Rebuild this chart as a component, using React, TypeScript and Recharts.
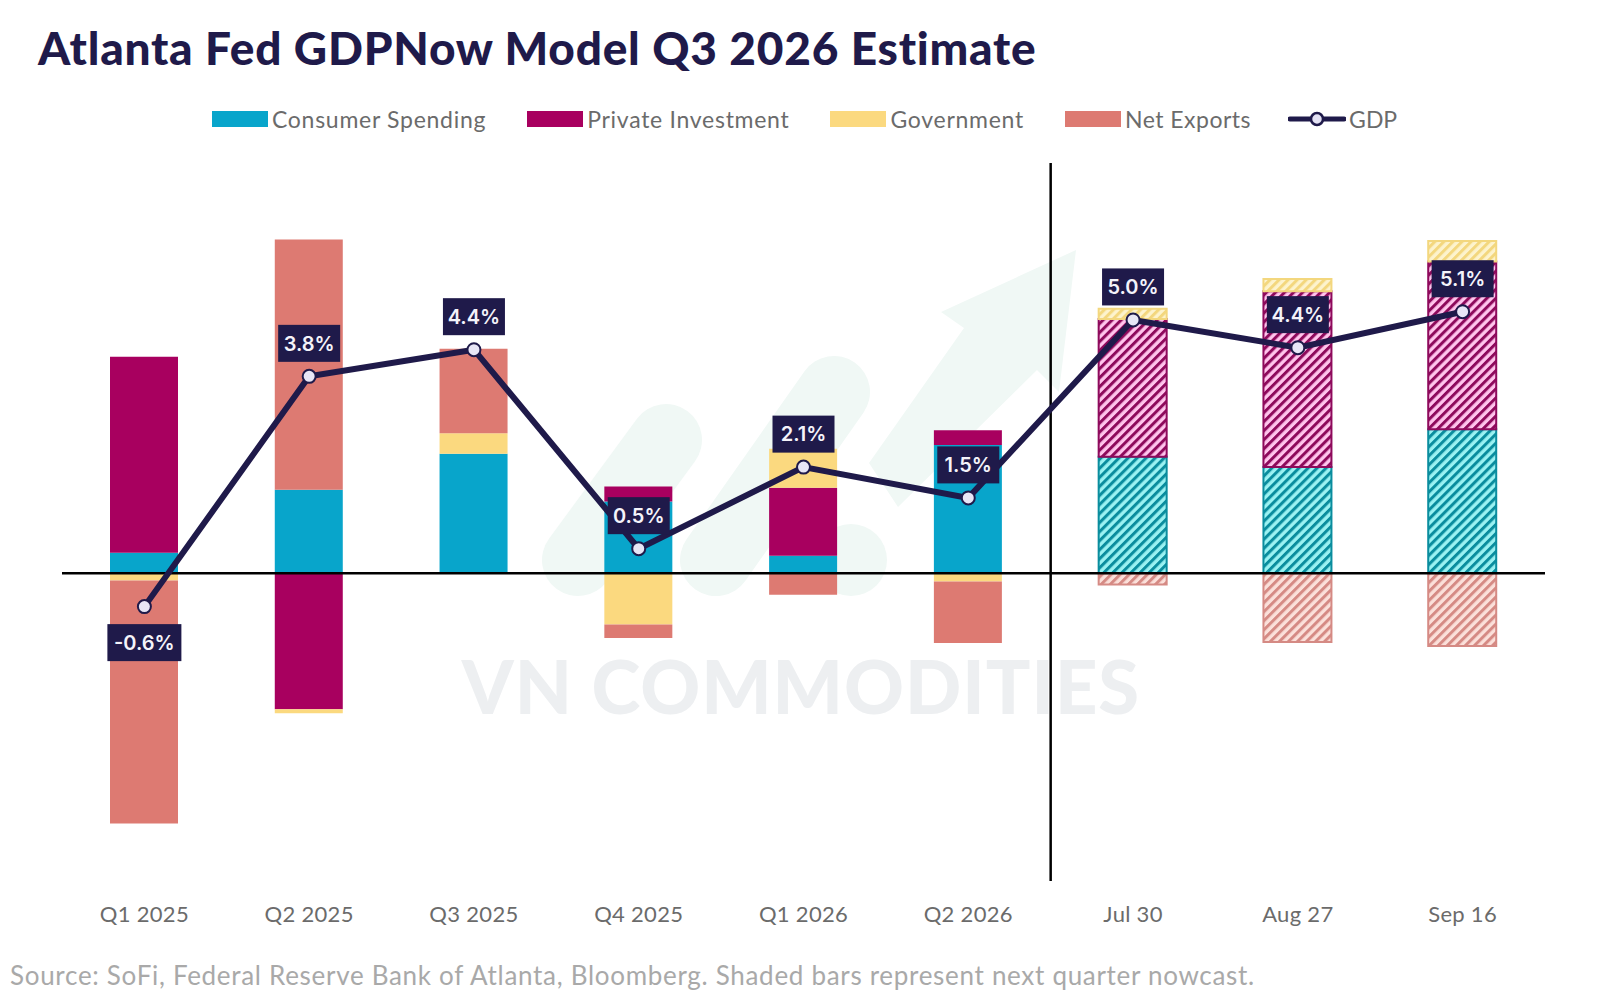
import {
  Bar,
  Cell,
  ComposedChart,
  LabelList,
  Line,
  ReferenceLine,
  XAxis,
  YAxis,
} from "recharts";

const categories = ["Q1 2025", "Q2 2025", "Q3 2025", "Q4 2025", "Q1 2026", "Q2 2026", "Jul 30", "Aug 27", "Sep 16"];
const consumer = [0.4, 1.63, 2.33, 1.4, 0.34, 2.5, 2.27, 2.07, 2.81];
const investment = [3.82, -2.65, 0, 0.29, 1.33, 0.29, 2.69, 3.43, 3.27];
const government = [-0.14, -0.08, 0.4, -1.0, 0.76, -0.16, 0.2, 0.24, 0.4];
const netExports = [-4.74, 4.88, 1.65, -0.26, -0.42, -1.2, -0.22, -1.34, -1.42];
const gdp = [-0.65, 3.84, 4.36, 0.48, 2.07, 1.47, 4.94, 4.4, 5.1];
const gdpLabels = ["-0.6%", "3.8%", "4.4%", "0.5%", "2.1%", "1.5%", "5.0%", "4.4%", "5.1%"];
const nowcast = [false, false, false, false, false, false, true, true, true];

const NAVY = "#1f1a4a";
const FONT = "Lato, sans-serif";

// the hidden index axis runs 0..8 across the plot, the split sits 6 bands of 9 in
const SPLIT_AT = (6 * 8) / 9;

const barSeries = [
  { key: "consumer", name: "Consumer Spending", color: "#08a5cb", light: "#9af2f2", dark: "#0a8d9e", hatch: "hatch-consumer" },
  { key: "investment", name: "Private Investment", color: "#a8005f", light: "#ffc4ec", dark: "#8e0a5c", hatch: "hatch-investment" },
  { key: "government", name: "Government", color: "#fbd97f", light: "#fdf3cd", dark: "#f3d77e", hatch: "hatch-government" },
  { key: "netExports", name: "Net Exports", color: "#dd7a72", light: "#fbe0da", dark: "#d58a84", hatch: "hatch-netExports" },
];

const data = categories.map((category, i) => ({
  category,
  consumer: consumer[i],
  investment: investment[i],
  government: government[i],
  netExports: netExports[i],
  gdp: gdp[i],
}));

function GdpLabel({ x, y, index }: any) {
  const text = gdpLabels[index];
  const below = gdp[index] < 0;
  const w = text.length > 4 ? 74 : 62;
  const h = 37;
  const cy = below ? y + 36 : y - 33;
  return (
    <g>
      <rect x={x - w / 2} y={cy - h / 2} width={w} height={h} fill={NAVY} />
      <text x={x} y={cy} dy="0.36em" textAnchor="middle" fill="#f4f3fa" fontFamily="Inter, sans-serif" fontWeight={600} fontSize={20}>
        {text}
      </text>
    </g>
  );
}

function Watermark() {
  return (
    <svg width={1600} height={994} style={{ position: "absolute", left: 0, top: 0 }}>
      <g stroke="#f0f8f5" strokeWidth={72} strokeLinecap="round">
        <line x1={578} y1={560} x2={666} y2={440} />
        <line x1={716} y1={560} x2={834} y2={392} />
        <line x1={851} y1={560} x2={851} y2={560} />
      </g>
      <polygon points="1076,250 941,312 964,328 869,463 898,507 1037,370 1059,392" fill="#f0f8f5" />
      <text x={801} y={714} textAnchor="middle" fill="#edeff1" fontFamily={FONT} fontWeight={900} fontSize={74} letterSpacing={1}>
        VN COMMODITIES
      </text>
    </svg>
  );
}

function LegendRow() {
  return (
    <div style={{ position: "absolute", left: 212, top: 104, height: 30, display: "flex", alignItems: "center", fontFamily: FONT, fontSize: 23, color: "#6b6b6b", letterSpacing: 0.72, whiteSpace: "nowrap" }}>
      {barSeries.map((s) => (
        <div key={s.key} style={{ display: "flex", alignItems: "center", marginRight: s.key === "netExports" ? 37 : 41 }}>
          <span style={{ width: 56, height: 16, background: s.color, marginRight: 4 }} />
          <span style={{ letterSpacing: s.key === "netExports" ? 0.5 : undefined }}>{s.name}</span>
        </div>
      ))}
      <svg width={58} height={20} style={{ marginRight: 3 }}>
        <line x1={2} y1={10} x2={56} y2={10} stroke={NAVY} strokeWidth={5} strokeLinecap="round" />
        <circle cx={29} cy={10} r={6} fill="#e4e2f4" stroke={NAVY} strokeWidth={2.5} />
      </svg>
      <span style={{ letterSpacing: 0 }}>GDP</span>
    </div>
  );
}

export default function App() {
  return (
    <div style={{ position: "absolute", left: 0, top: 0, width: 1600, height: 994, background: "#fff", overflow: "hidden" }}>
      <Watermark />
      <div style={{ position: "absolute", left: 38, top: 20, fontFamily: FONT, fontWeight: 900, fontSize: 46, color: NAVY, whiteSpace: "nowrap", letterSpacing: 0.75 }}>
        Atlanta Fed GDPNow Model Q3 2026 Estimate
      </div>
      <LegendRow />
      <div style={{ position: "absolute", left: 0, top: 0 }}>
        <ComposedChart
          width={1600}
          height={994}
          data={data}
          stackOffset="sign"
          barSize={68}
          margin={{ top: 163, right: 55, bottom: 53, left: 62 }}
        >
          <defs>
            {barSeries.map((s) => (
              <pattern key={s.hatch} id={s.hatch} patternUnits="userSpaceOnUse" width={6.4} height={6.4} patternTransform="rotate(45)">
                <rect width={6.4} height={6.4} fill={s.light} />
                <rect width={3} height={6.4} fill={s.dark} />
              </pattern>
            ))}
          </defs>
          <XAxis
            dataKey="category"
            axisLine={false}
            tickLine={false}
            interval={0}
            height={60}
            tickMargin={19}
            tick={{ fontFamily: FONT, fontSize: 22, fill: "#6b6b6b", letterSpacing: 0.3 }}
          />
          <XAxis xAxisId="split" type="number" domain={[0, 8]} allowDataOverflow hide />
          <YAxis hide domain={[-6, 8]} width={0} />
          {barSeries.map((s) => (
            <Bar key={s.key} dataKey={s.key} name={s.name} stackId="gdp" fill={s.color} isAnimationActive={false}>
              {data.map((_, i) => (
                <Cell
                  key={i}
                  fill={nowcast[i] ? `url(#${s.hatch})` : s.color}
                  stroke={nowcast[i] ? s.dark : "none"}
                  strokeWidth={nowcast[i] ? 2 : 0}
                />
              ))}
            </Bar>
          ))}
          <ReferenceLine y={0} stroke="#000" strokeWidth={2.5} />
          <ReferenceLine xAxisId="split" x={SPLIT_AT} stroke="#000" strokeWidth={2.5} />
          <Line
            dataKey="gdp"
            name="GDP"
            stroke={NAVY}
            strokeWidth={6}
            isAnimationActive={false}
            dot={{ r: 6.5, fill: "#e8e6f6", stroke: NAVY, strokeWidth: 2 }}
          >
            <LabelList dataKey="gdp" content={GdpLabel} />
          </Line>
        </ComposedChart>
      </div>
      <div style={{ position: "absolute", left: 10, top: 959, fontFamily: FONT, fontSize: 26, color: "#a9a9a9", whiteSpace: "nowrap", letterSpacing: 0.7 }}>
        Source: SoFi, Federal Reserve Bank of Atlanta, Bloomberg. Shaded bars represent next quarter nowcast.
      </div>
    </div>
  );
}
